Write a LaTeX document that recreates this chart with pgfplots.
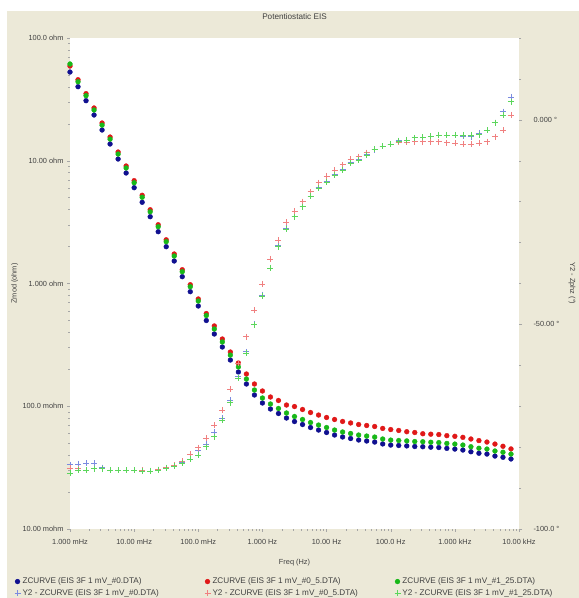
\documentclass[border=0pt]{standalone}
\usepackage{fontspec}
\setmainfont{Liberation Sans}
\usepackage{pgfplots}
\usepackage{pgfplotstable}
\pgfplotsset{compat=1.18}
\definecolor{bgbeige}{HTML}{ECE9D8}
\definecolor{cb}{HTML}{101090}
\definecolor{cr}{HTML}{E01818}
\definecolor{cg}{HTML}{18B818}
\definecolor{pbc}{HTML}{7B8BE0}
\definecolor{prc}{HTML}{F08080}
\definecolor{pgc}{HTML}{5CD65C}
\newcommand\gf{\fontsize{7.4}{8.6}\selectfont}
\newcommand\lf{\fontsize{8.2}{9.2}\selectfont}

\pgfplotstableread{
f zb zr zg pb pr pg
0.0010000 52.8 59.1 61.4 -84.3 -85.1 -86.3
0.0013335 40.1 45.7 44.0 -84.1 -85.3 -85.6
0.0017783 30.85 35.2 33.9 -83.9 -85.6 -85.6
0.0023714 23.59 26.9 25.9 -83.9 -85.3 -85.3
0.0031623 17.80 20.3 19.5 -85.0 -85.3 -85.3
0.0042170 13.69 15.6 15.0 -85.6 -85.6 -85.6
0.0056234 10.33 11.78 11.34 -85.6 -85.6 -85.7
0.0074989 7.949 9.06 8.73 -85.7 -85.6 -85.6
0.010000 6.031 6.88 6.62 -85.7 -85.7 -85.7
0.013335 4.587 5.23 5.04 -85.7 -85.7 -85.8
0.017783 3.501 3.99 3.84 -85.8 -85.8 -85.8
0.023714 2.642 3.01 2.90 -85.5 -85.5 -85.6
0.031623 1.994 2.27 2.19 -85.1 -85.0 -85.2
0.042170 1.525 1.739 1.674 -84.6 -84.4 -84.7
0.056234 1.136 1.295 1.247 -83.6 -83.4 -83.9
0.074989 0.8574 0.977 0.941 -82.9 -81.7 -82.9
0.10000 0.6557 0.748 0.720 -80.9 -80.1 -81.9
0.13335 0.4994 0.569 0.548 -79.2 -77.8 -79.9
0.17783 0.3879 0.451 0.426 -76.3 -74.6 -77.4
0.23714 0.3039 0.353 0.334 -72.9 -70.9 -73.4
0.31623 0.2380 0.2766 0.261 -68.5 -65.8 -69.1
0.42170 0.1901 0.2251 0.209 -62.8 -59.4 -63.1
0.56234 0.1518 0.1831 0.1667 -56.7 -53.0 -57.1
0.74989 0.1235 0.1518 0.1356 -49.9 -46.5 -50.1
1.0000 0.1063 0.1331 0.1167 -42.8 -40.1 -43.1
1.3335 0.0950 0.1189 0.1043 -36.2 -34.0 -36.2
1.7783 0.0873 0.1114 0.0959 -30.8 -29.4 -31.0
2.3714 0.0802 0.1023 0.0881 -26.5 -25.0 -26.7
3.1623 0.0751 0.0995 0.0825 -23.5 -22.3 -23.7
4.2170 0.0710 0.0941 0.0780 -21.1 -20.0 -21.2
5.6234 0.0671 0.0889 0.0737 -18.6 -17.6 -18.7
7.4989 0.0640 0.0848 0.0703 -16.4 -15.4 -16.7
10.000 0.0611 0.0810 0.0671 -15.0 -13.7 -15.2
13.335 0.0583 0.0780 0.0640 -13.3 -12.3 -13.5
17.783 0.0562 0.0752 0.0617 -12.1 -11.0 -12.3
23.714 0.0546 0.0731 0.0600 -10.4 -9.6 -10.6
31.623 0.0531 0.0710 0.0583 -9.7 -9.0 -9.8
42.170 0.0521 0.0697 0.0572 -8.5 -8.0 -8.6
56.234 0.0511 0.0684 0.0561 -7.3 -7.2 -7.2
74.989 0.0493 0.0660 0.0541 -6.5 -6.5 -6.5
100.00 0.0483 0.0646 0.0530 -6.0 -6.0 -5.9
133.35 0.0479 0.0635 0.0526 -5.1 -5.5 -5.2
177.83 0.0475 0.0620 0.0522 -4.9 -5.5 -4.9
237.14 0.0470 0.0611 0.0516 -4.4 -5.3 -4.4
316.23 0.0468 0.0597 0.0514 -4.3 -5.3 -4.3
421.70 0.0464 0.0592 0.0509 -4.0 -5.3 -4.0
562.34 0.0461 0.0588 0.0506 -3.7 -5.3 -3.7
749.89 0.0454 0.0576 0.0498 -3.7 -5.6 -3.7
1000.0 0.0448 0.0569 0.0492 -3.8 -5.7 -3.7
1333.5 0.0440 0.0558 0.0483 -4.0 -5.9 -3.7
1778.3 0.0426 0.0541 0.0468 -4.1 -5.9 -3.7
2371.4 0.0414 0.0525 0.0455 -3.3 -5.7 -3.6
3162.3 0.0408 0.0511 0.0448 -2.5 -5.3 -2.5
4217.0 0.0393 0.0492 0.0432 -0.7 -4.1 -0.7
5623.4 0.0384 0.0472 0.0422 2.0 -2.5 1.2
7498.9 0.0372 0.0449 0.0408 5.6 1.2 4.4
}\eisdata

\begin{document}
\begin{tikzpicture}[x=1bp,y=1bp]
\fill[white] (0,0) rectangle (579,598);
\fill[bgbeige] (7,0) rectangle (579,587);

\begin{axis}[
  at={(70bp,69bp)}, anchor=south west,
  scale only axis, width=449bp, height=491bp,
  xmode=log, xmin=1e-3, xmax=1e4,
  ymode=log, ymin=1e-2, ymax=1e2,
  axis line style={draw=none},
  tick align=outside, major tick length=3bp, minor tick length=2bp,
  tick style={black!35, line width=0.4bp},
  ticklabel style={font=\gf, text=black!75},
  xticklabel style={yshift=-4bp},
  clip=false,
  axis background/.style={fill=white},
  axis y line*=left, axis x line*=bottom,
  xtick={1e-3,1e-2,1e-1,1,10,100,1000,10000},
  xticklabels={1.000 mHz,10.00 mHz,100.0 mHz,1.000 Hz,10.00 Hz,100.0 Hz,1.000 kHz,10.00 kHz},
  ytick={1e-2,1e-1,1,10,100},
  yticklabels={10.00 mohm,100.0 mohm,1.000 ohm,10.00 ohm,100.0 ohm},
  xlabel={Freq (Hz)},
  xlabel style={font=\gf, text=black!75, at={(axis description cs:0.5,-0.069)}, anchor=center},
  ylabel={Zmod (ohm)},
  ylabel style={font=\gf, text=black!75, at={(axis description cs:-0.123,0.5)}, anchor=center, rotate=0},
  title={Potentiostatic EIS},
  title style={font=\lf, text=black!75, at={(axis description cs:0.5,1.031)}, anchor=center},
]
\addplot[only marks, mark=*, mark size=2.4bp, color=cb] table[x=f,y=zb] {\eisdata};
\addplot[only marks, mark=*, mark size=2.4bp, color=cr] table[x=f,y=zr] {\eisdata};
\addplot[only marks, mark=*, mark size=2.4bp, color=cg] table[x=f,y=zg] {\eisdata};
\end{axis}

\begin{axis}[
  at={(70bp,69bp)}, anchor=south west,
  scale only axis, width=449bp, height=491bp,
  xmode=log, xmin=1e-3, xmax=1e4,
  ymin=-100, ymax=20,
  axis line style={draw=none},
  tick align=outside, major tick length=3bp, minor tick length=2bp,
  tick style={black!35, line width=0.4bp},
  ticklabel style={font=\gf, text=black!75},
  yticklabel style={xshift=8bp},
  clip=false,
  hide x axis,
  axis y line*=right,
  ytick={-100,-50,0},
  yticklabels={-100.0 °,-50.00 °,0.000 °},
  minor ytick={-90,-80,-70,-60,-40,-30,-20,-10,10,20},
  ylabel={Y2 - Zphz (°)},
  ylabel style={font=\gf, text=black!75, at={(axis description cs:1.118,0.5)}, anchor=center, rotate=180},
  legend columns=3,
  legend cell align=left,
  legend style={at={(axis description cs:-0.124,-0.095)}, anchor=north west,
    draw=none, fill=none, font=\lf, text=black!75, row sep=0bp, inner sep=0bp},
]
\addlegendimage{only marks, mark=*, mark size=2.4bp, color=cb}
\addlegendentry{\makebox[180bp][l]{ZCURVE (EIS 3F 1 mV\_\#0.DTA)}}
\addlegendimage{only marks, mark=*, mark size=2.4bp, color=cr}
\addlegendentry{\makebox[180bp][l]{ZCURVE (EIS 3F 1 mV\_\#0\_5.DTA)}}
\addlegendimage{only marks, mark=*, mark size=2.4bp, color=cg}
\addlegendentry{\makebox[150bp][l]{ZCURVE (EIS 3F 1 mV\_\#1\_25.DTA)}}
\addplot[only marks, mark=+, mark size=3bp, line width=0.7bp, color=pbc] table[x=f,y=pb] {\eisdata};
\addlegendentry{\makebox[180bp][l]{Y2 - ZCURVE (EIS 3F 1 mV\_\#0.DTA)}}
\addplot[only marks, mark=+, mark size=3bp, line width=0.7bp, color=prc] table[x=f,y=pr] {\eisdata};
\addlegendentry{\makebox[180bp][l]{Y2 - ZCURVE (EIS 3F 1 mV\_\#0\_5.DTA)}}
\addplot[only marks, mark=+, mark size=3bp, line width=0.7bp, color=pgc] table[x=f,y=pg] {\eisdata};
\addlegendentry{\makebox[150bp][l]{Y2 - ZCURVE (EIS 3F 1 mV\_\#1\_25.DTA)}}
\end{axis}
\pgfresetboundingbox
\path[use as bounding box] (0,0) rectangle (579,598);
\end{tikzpicture}
\end{document}
